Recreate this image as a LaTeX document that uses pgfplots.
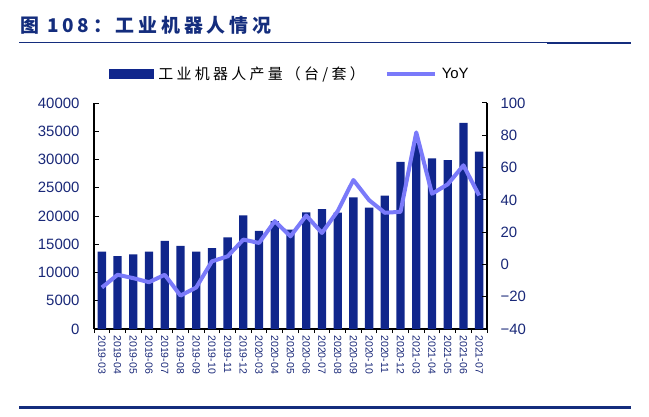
\documentclass[border=0pt]{standalone}
\usepackage{fontspec}
\setmainfont{Liberation Sans}
\newfontfamily\cjkt[LetterSpace=20]{Noto Sans CJK SC}
\newfontfamily\cjkl[LetterSpace=22]{Noto Sans CJK SC}
\usepackage{pgfplots}
\usepackage{pgfplotstable}
\pgfplotsset{compat=1.18}

\definecolor{barblue}{RGB}{16,38,140}
\definecolor{yoyline}{RGB}{122,122,250}
\definecolor{navy}{RGB}{20,45,125}
\definecolor{ticktext}{RGB}{25,40,120}

% monthly output (units) and YoY (%)
\pgfplotstableread{
idx month units yoy
0  2019-03 13700 -14.3
1  2019-04 12900 -6.4
2  2019-05 13200 -8.5
3  2019-06 13700 -11.0
4  2019-07 15600 -6.4
5  2019-08 14700 -19.3
6  2019-09 13700 -14.3
7  2019-10 14300 1.9
8  2019-11 16200 5.0
9  2019-12 20100 15.4
10 2020-03 17350 13.3
11 2020-04 19100 26.8
12 2020-05 17600 17.4
13 2020-06 20650 30.3
14 2020-07 21200 19.5
15 2020-08 20600 33.0
16 2020-09 23300 52.3
17 2020-10 21500 39.8
18 2020-11 23600 32.0
19 2020-12 29600 32.6
20 2021-03 33000 81.8
21 2021-04 30200 43.8
22 2021-05 29900 49.6
23 2021-06 36500 61.4
24 2021-07 31400 42.7
}\robots

\pgfplotsset{
  common/.style={
    at={(94bp,87bp)}, anchor=south west,
    scale only axis, width=393bp, height=226bp,
    xmin=-0.5, xmax=24.5,
    axis line style={-, line width=1.1bp, black},
    tick style={black, line width=1bp},
    major tick length=5bp,
    tick align=inside,
    scaled y ticks=false,
    yticklabel style={font=\fontsize{15}{15}\selectfont, text=ticktext},
  }
}

\begin{document}
\begin{tikzpicture}[x=1bp,y=1bp]
\useasboundingbox (0,0) rectangle (649,416);

\node[anchor=west, text=navy, inner sep=0pt,
      font=\cjkt\bfseries\fontsize{19}{19}\selectfont] at (20,391) {图 108：工业机器人情况};
\draw[navy, line width=1bp] (19,373.3) -- (631,373.3);
\draw[navy, line width=2bp] (547,373.3) -- (631,373.3);
\draw[navy, line width=2.5bp] (19,8.3) -- (631,8.3);

\begin{axis}[
  common,
  ymin=0, ymax=40000,
  axis x line*=bottom, axis y line*=left,
  ytick={0,5000,...,40000},
  yticklabels={0,5000,10000,15000,20000,25000,30000,35000,40000},
  yticklabel shift=11bp,
  xtick={-0.5,0.5,...,24.5},
  x tick label as interval,
  xticklabels={2019-03,2019-04,2019-05,2019-06,2019-07,2019-08,2019-09,2019-10,2019-11,2019-12,
               2020-03,2020-04,2020-05,2020-06,2020-07,2020-08,2020-09,2020-10,2020-11,2020-12,
               2021-03,2021-04,2021-05,2021-06,2021-07},
  xticklabel style={font=\fontsize{10.5}{10.5}\selectfont, text=ticktext, rotate=-90, anchor=west},
  xticklabel shift=3bp,
  xtick style={yshift=-4bp},
]
\addplot[ybar, bar width=8.3bp, fill=barblue, draw=none] table[x=idx, y=units] {\robots};
\end{axis}

\begin{axis}[
  common,
  ymin=-40, ymax=100,
  axis x line=none, axis y line*=right,
  ytick={-40,-20,...,100},
  yticklabels={−40,−20,0,20,40,60,80,100},
  yticklabel shift=10bp,
  legend columns=2,
  legend cell align=left,
  legend style={at={(0.03,1.128)}, anchor=west, draw=none, fill=none,
                font=\fontsize{15}{15}\selectfont,
                /tikz/every odd column/.append style={column sep=3bp},
                /tikz/every even column/.append style={column sep=18bp}},
]
\addlegendimage{legend image code/.code={\fill[barblue] (0bp,-4.5bp) rectangle (44bp,4.5bp);}}
\addlegendentry{\cjkl 工业机器人产量（台/套）}
\addplot[yoyline, line width=4bp, line join=round,
         legend image code/.code={\draw[yoyline, line width=4bp] (0bp,0bp) -- (48bp,0bp);}]
  table[x=idx, y=yoy] {\robots};
\addlegendentry{YoY}
\end{axis}
\end{tikzpicture}
\end{document}
